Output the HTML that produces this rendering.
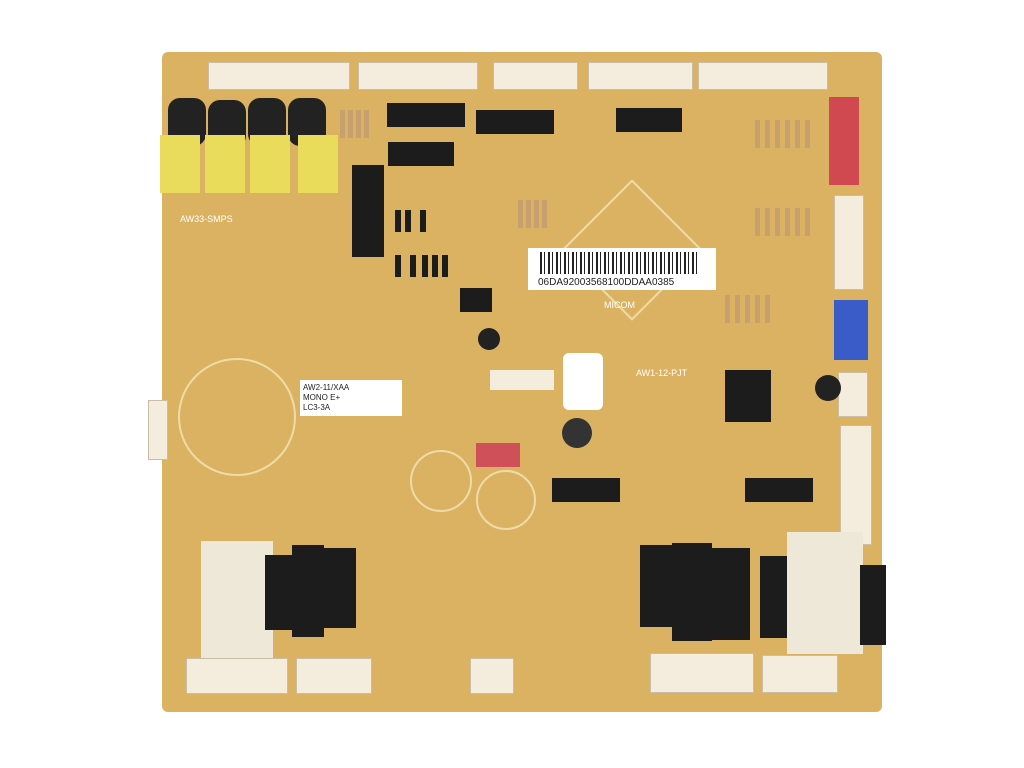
<!DOCTYPE html><html><head><style>
body{margin:0;width:1024px;height:768px;background:#fff;position:relative;overflow:hidden;font-family:"Liberation Sans",sans-serif}
div{position:absolute;box-sizing:border-box}
.b{background:#dbb262}
.w{background:#f4ecdc;border:1px solid #c9bda5}
.k{background:#1c1c1c}
.c{background:#222;border-radius:12px}
.y{background:#e8dc5a}
.r{background:#c8a070;width:5px;height:28px}
.t{font-size:8px;color:#fff}
</style></head><body>
<div class="b" style="left:162px;top:52px;width:720px;height:660px;border-radius:6px"></div>
<!-- top connectors -->
<div class="w" style="left:208px;top:62px;width:142px;height:28px"></div>
<div class="w" style="left:358px;top:62px;width:120px;height:28px"></div>
<div class="w" style="left:493px;top:62px;width:85px;height:28px"></div>
<div class="w" style="left:588px;top:62px;width:105px;height:28px"></div>
<div class="w" style="left:698px;top:62px;width:130px;height:28px"></div>
<!-- right connectors -->
<div style="left:829px;top:97px;width:30px;height:88px;background:#d04850"></div>
<div class="w" style="left:834px;top:195px;width:30px;height:95px"></div>
<div style="left:834px;top:300px;width:34px;height:60px;background:#3a5cc8"></div>
<div class="w" style="left:838px;top:372px;width:30px;height:45px"></div>
<div class="w" style="left:840px;top:425px;width:32px;height:120px"></div>
<!-- capacitors & transformers -->
<div class="c" style="left:168px;top:98px;width:38px;height:48px"></div>
<div class="c" style="left:208px;top:100px;width:38px;height:48px"></div>
<div class="c" style="left:248px;top:98px;width:38px;height:48px"></div>
<div class="c" style="left:288px;top:98px;width:38px;height:48px"></div>
<div class="y" style="left:160px;top:135px;width:40px;height:58px"></div>
<div class="y" style="left:205px;top:135px;width:40px;height:58px"></div>
<div class="y" style="left:250px;top:135px;width:40px;height:58px"></div>
<div class="y" style="left:298px;top:135px;width:40px;height:58px"></div>
<div class="k" style="left:352px;top:165px;width:32px;height:92px"></div>
<!-- ICs -->
<div class="k" style="left:387px;top:103px;width:78px;height:24px"></div>
<div class="k" style="left:476px;top:110px;width:78px;height:24px"></div>
<div class="k" style="left:388px;top:142px;width:66px;height:24px"></div>
<div class="k" style="left:616px;top:108px;width:66px;height:24px"></div>
<div class="k" style="left:460px;top:288px;width:32px;height:24px"></div>
<div class="k" style="left:552px;top:478px;width:68px;height:24px"></div>
<div class="k" style="left:745px;top:478px;width:68px;height:24px"></div>
<div class="k" style="left:725px;top:370px;width:46px;height:52px"></div>
<!-- resistors -->
<div class="r" style="left:340px;top:110px"></div><div class="r" style="left:348px;top:110px"></div><div class="r" style="left:356px;top:110px"></div><div class="r" style="left:364px;top:110px"></div>
<div class="r" style="left:755px;top:120px"></div><div class="r" style="left:765px;top:120px"></div><div class="r" style="left:775px;top:120px"></div><div class="r" style="left:785px;top:120px"></div><div class="r" style="left:795px;top:120px"></div><div class="r" style="left:805px;top:120px"></div>
<div class="r" style="left:755px;top:208px"></div><div class="r" style="left:765px;top:208px"></div><div class="r" style="left:775px;top:208px"></div><div class="r" style="left:785px;top:208px"></div><div class="r" style="left:795px;top:208px"></div><div class="r" style="left:805px;top:208px"></div>
<div class="r" style="left:725px;top:295px"></div><div class="r" style="left:735px;top:295px"></div><div class="r" style="left:745px;top:295px"></div><div class="r" style="left:755px;top:295px"></div><div class="r" style="left:765px;top:295px"></div>
<div class="r" style="left:518px;top:200px"></div><div class="r" style="left:526px;top:200px"></div><div class="r" style="left:534px;top:200px"></div><div class="r" style="left:542px;top:200px"></div>
<!-- diodes -->
<div class="k" style="left:395px;top:210px;width:6px;height:22px"></div><div class="k" style="left:405px;top:210px;width:6px;height:22px"></div><div class="k" style="left:420px;top:210px;width:6px;height:22px"></div>
<div class="k" style="left:395px;top:255px;width:6px;height:22px"></div><div class="k" style="left:410px;top:255px;width:6px;height:22px"></div><div class="k" style="left:422px;top:255px;width:6px;height:22px"></div><div class="k" style="left:432px;top:255px;width:6px;height:22px"></div><div class="k" style="left:442px;top:255px;width:6px;height:22px"></div>
<!-- micom diamond -->
<div style="left:582px;top:200px;width:100px;height:100px;border:2px solid #eedca8;transform:rotate(45deg)"></div>
<div style="left:528px;top:248px;width:188px;height:42px;background:#fff"></div>
<div style="left:540px;top:252px;width:160px;height:22px;background:repeating-linear-gradient(90deg,#222 0 2px,#fff 2px 4px,#222 4px 5px,#fff 5px 8px)"></div>
<div style="left:538px;top:277px;font-size:10px;color:#222">06DA92003568100DDAA0385</div>
<div style="left:563px;top:353px;width:40px;height:57px;background:#fff;border-radius:6px"></div>
<!-- labels -->
<div style="left:300px;top:380px;width:102px;height:36px;background:#fff;font-size:8px;color:#222;padding:3px;line-height:10px">AW2-11/XAA<br>MONO E+<br>LC3-3A</div>
<div style="left:490px;top:370px;width:64px;height:20px;background:#f4ecdc"></div>
<div style="left:476px;top:443px;width:44px;height:24px;background:#d0505a"></div>
<div style="left:562px;top:418px;width:30px;height:30px;border-radius:15px;background:#333"></div>
<div style="left:478px;top:328px;width:22px;height:22px;border-radius:11px;background:#222"></div>
<div style="left:815px;top:375px;width:26px;height:26px;border-radius:13px;background:#222"></div>
<div style="left:178px;top:358px;width:118px;height:118px;border-radius:60px;border:2px solid #eedca8"></div>
<div style="left:410px;top:450px;width:62px;height:62px;border-radius:31px;border:2px solid #eedca8"></div>
<div style="left:476px;top:470px;width:60px;height:60px;border-radius:30px;border:2px solid #eedca8"></div>
<div style="left:180px;top:214px;font-size:9px;color:#fff">AW33-SMPS</div>
<div style="left:636px;top:368px;font-size:9px;color:#fff">AW1-12-PJT</div>
<div style="left:604px;top:300px;font-size:9px;color:#fff">MICOM</div>
<!-- relays -->
<div style="left:201px;top:541px;width:72px;height:120px;background:#eee8d8"></div>
<div class="k" style="left:265px;top:555px;width:30px;height:75px"></div>
<div class="k" style="left:292px;top:545px;width:32px;height:92px"></div>
<div class="k" style="left:320px;top:548px;width:36px;height:80px"></div>
<div class="k" style="left:640px;top:545px;width:38px;height:82px"></div>
<div class="k" style="left:672px;top:543px;width:40px;height:98px"></div>
<div class="k" style="left:710px;top:548px;width:40px;height:92px"></div>
<div class="k" style="left:760px;top:556px;width:48px;height:82px"></div>
<div style="left:787px;top:532px;width:76px;height:122px;background:#eee8d8"></div>
<div class="k" style="left:860px;top:565px;width:26px;height:80px"></div>
<!-- bottom connectors -->
<div class="w" style="left:186px;top:658px;width:102px;height:36px"></div>
<div class="w" style="left:296px;top:658px;width:76px;height:36px"></div>
<div class="w" style="left:470px;top:658px;width:44px;height:36px"></div>
<div class="w" style="left:650px;top:653px;width:104px;height:40px"></div>
<div class="w" style="left:762px;top:655px;width:76px;height:38px"></div>
<div class="w" style="left:148px;top:400px;width:20px;height:60px"></div>
</body></html>
